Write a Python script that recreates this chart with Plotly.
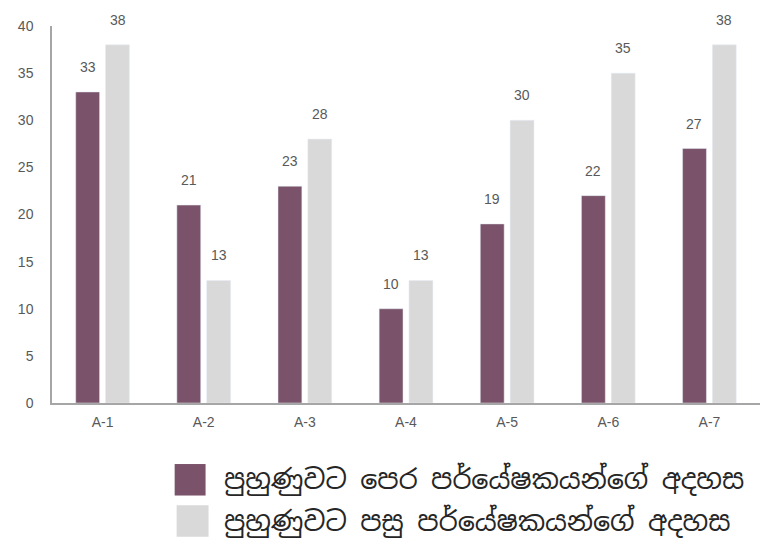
import plotly.graph_objects as go

categories = ["A-1", "A-2", "A-3", "A-4", "A-5", "A-6", "A-7"]
before_vals = [33, 21, 23, 10, 19, 22, 27]
after_vals = [38, 13, 28, 13, 30, 35, 38]
series_names = ["පුහුණුවට පෙර පර්යේෂකයන්ගේ අදහස", "පුහුණුවට පසු පර්යේෂකයන්ගේ අදහස"]
colors = ["#7A5269", "#D9D9D9"]
y_ticks = [0, 5, 10, 15, 20, 25, 30, 35, 40]

W, H = 762, 535
L, R, T, B = 42, 10, 12, 140
PW, PH = W - L - R, H - T - B
BARGAP, BARGROUPGAP = 0.41, 0.2


def px(fx):
    return (fx - L) / PW


def py(fy):
    return (H - B - fy) / PH


fig = go.Figure()
all_series = [before_vals, after_vals]
for name, vals, col in zip(series_names, all_series, colors):
    fig.add_trace(go.Bar(
        x=categories, y=vals, name=name, marker_color=col,
        showlegend=False,
    ))

# value labels above the bars (derived from the bar layout)
cat_w = PW / len(categories)
slot = (1 - BARGAP) * cat_w / len(all_series)
for i, vals in enumerate(all_series):
    off = (i - (len(all_series) - 1) / 2) * slot
    for c, v in zip(categories, vals):
        fig.add_annotation(x=c, y=v, xref="x", yref="y", text=str(v),
                           showarrow=False, xanchor="center", yanchor="bottom",
                           xshift=off, yshift=15,
                           font=dict(size=14, color="#595959",
                                     family="Liberation Sans, Arial"))

fig.update_layout(
    width=W, height=H,
    margin=dict(l=L, r=R, t=T, b=B),
    plot_bgcolor="white", paper_bgcolor="white",
    barmode="group", bargap=BARGAP, bargroupgap=BARGROUPGAP,
    font=dict(family="Liberation Sans, Arial", color="#595959"),
    xaxis=dict(showline=True, linecolor="#A6A6A6", linewidth=1.5, ticks="",
               ticklabelstandoff=5, tickfont=dict(size=14, color="#595959")),
    yaxis=dict(range=[0, 40], tickvals=y_ticks, showgrid=False, zeroline=False,
               showline=True, linecolor="#A6A6A6", linewidth=1.5, ticks="",
               ticklabelstandoff=14, tickfont=dict(size=14, color="#595959")),
)

# legend drawn manually (large swatches below the plot), positions in figure pixels
swatch_x = [(165, 196), (167, 199)]
row_y = [473, 515]
for name, col, (sx0, sx1), yc in zip(series_names, colors, swatch_x, row_y):
    fig.add_shape(type="rect", xref="paper", yref="paper",
                  x0=px(sx0), x1=px(sx1), y0=py(yc + 16), y1=py(yc - 16),
                  fillcolor=col, line=dict(width=0))
    fig.add_annotation(xref="paper", yref="paper",
                       x=px(212), y=py(yc),
                       xanchor="left", yanchor="middle", showarrow=False,
                       text=name,
                       font=dict(size=27, color="#262626",
                                 family="Noto Sans Sinhala, Iskoola Pota, Noto Sans, sans-serif"))

fig.write_html("out.html")
